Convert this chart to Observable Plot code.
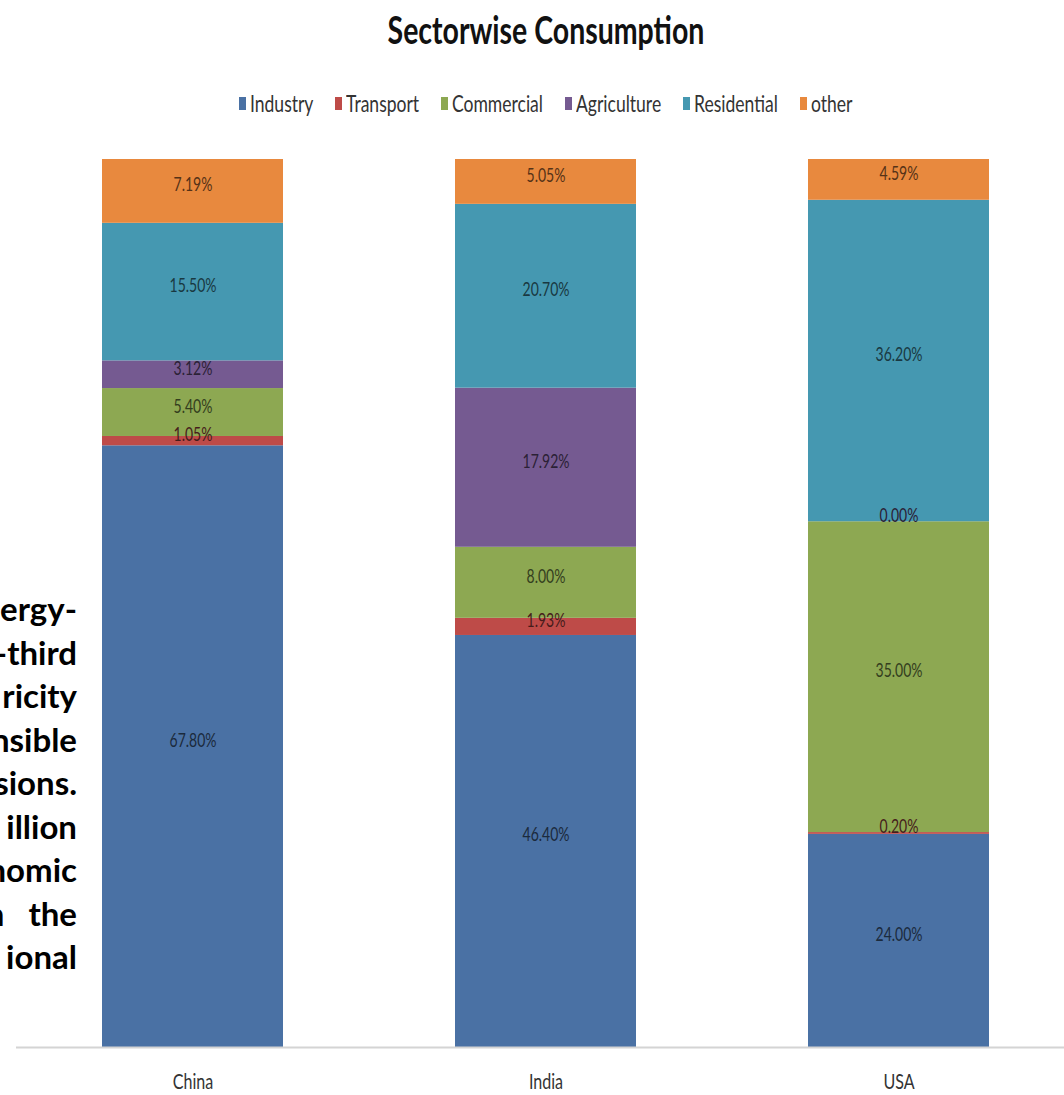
<!DOCTYPE html>
<html>
<head>
<meta charset="utf-8">
<script src="https://cdn.jsdelivr.net/npm/d3@7"></script>
<script src="https://cdn.jsdelivr.net/npm/@observablehq/plot@0.6"></script>
<style>
  html, body { margin: 0; padding: 0; background: #fff; overflow: hidden; }
  #page { position: relative; width: 1064px; height: 1095px; overflow: hidden; background: #fff;
          font-family: Lato, "Open Sans", sans-serif; }
  #side { position: absolute; z-index: 2; left: -323px; top: 587px; width: 400px; text-align: right;
          font-weight: 700; font-size: 33px; line-height: 43.5px; color: #000; white-space: pre; }
  #title { position: absolute; left: 16px; width: 1059px; top: 10px; text-align: center;
           font-weight: 700; font-size: 39px; line-height: 39px; color: #111; }
  #title span { display: inline-block; transform: scaleX(0.73); }
  #legend { position: absolute; left: 16px; width: 1059px; top: 91px; height: 24px;
            display: flex; justify-content: center; align-items: center; gap: 22px; }
  .item { display: flex; align-items: center; }
  .sw { width: 7px; height: 13px; margin-right: 4px; }
  .lab-box { overflow: visible; white-space: nowrap; }
  .lab { display: inline-block; font-size: 24px; line-height: 24px; color: #333; transform-origin: left center; }
  #chart { position: absolute; z-index: 1; left: 0; top: 125px; }
</style>
</head>
<body>
<div id="page">
  <div id="title"><span>Sectorwise Consumption</span></div>
  <div id="legend"></div>
  <div id="chart"></div>
  <div id="side"></div>
</div>
<script>
// Share of consumption by sector (percent), one array per country
const countries = ["China", "India", "USA"];
const sectors = ["Industry", "Transport", "Commercial", "Agriculture", "Residential", "other"];
const china = [67.80, 1.05, 5.40, 3.12, 15.50, 7.19];
const india = [46.40, 1.93, 8.00, 17.92, 20.70, 5.05];
const usa   = [24.00, 0.20, 35.00, 0.00, 36.20, 4.59];
const sectorColors = ["#4a71a4", "#be4b48", "#8da852", "#755a91", "#4598b1", "#e8893e"];

// Clipped paragraph fragments at the left edge
const sideLines = ["ergy-", "-third", "ricity", "nsible", "sions.", "illion", "nomic", "n\u00a0\u00a0\u00a0the", "ional"];

const SX = 0.73;       // horizontal condensing of legend / axis lettering
const SX_LABEL = 0.70; // horizontal condensing of the value labels

const byCountry = {China: china, India: india, USA: usa};
const rows = countries.flatMap(c => sectors.map((s, i) => ({country: c, sector: s, value: byCountry[c][i]})));
const colorOf = Object.fromEntries(sectors.map((s, i) => [s, sectorColors[i]]));
const labelColor = s => d3.color(colorOf[s]).darker(2.8).formatHex();

// side text
document.getElementById("side").textContent = sideLines.join("\n");

// legend
const legend = document.getElementById("legend");
sectors.forEach((s, i) => {
  const item = document.createElement("div");
  item.className = "item";
  const sw = document.createElement("div");
  sw.className = "sw";
  sw.style.background = sectorColors[i];
  const box = document.createElement("div");
  box.className = "lab-box";
  const lab = document.createElement("span");
  lab.className = "lab";
  lab.textContent = s;
  box.appendChild(lab);
  item.appendChild(sw);
  item.appendChild(box);
  legend.appendChild(item);
  const w = lab.getBoundingClientRect().width;
  lab.style.transform = `scaleX(${SX})`;
  box.style.width = (w * SX) + "px";
});

const chart = Plot.plot({
  width: 1064,
  height: 970,
  marginTop: 34,
  marginBottom: 48,
  marginLeft: 16,
  marginRight: 0,
  x: {domain: countries, range: [16, 1075], paddingInner: 0.487, paddingOuter: 0.2435, label: null, tickSize: 0, tickPadding: 41},
  y: {axis: null, domain: [0, 1]},
  color: {domain: sectors, range: sectorColors},
  style: {fontFamily: "Lato, 'Open Sans', sans-serif", fontSize: "22px", color: "#333", background: "transparent", overflow: "hidden"},
  marks: [
    Plot.barY(rows, Plot.stackY({offset: "normalize", x: "country", y: "value", fill: "sector"})),
    Plot.ruleY([0], {stroke: "#d4d4d4", strokeWidth: 2}),
    Plot.text(rows, Plot.stackY({
      offset: "normalize", x: "country", y: "value",
      text: d => d.value.toFixed(2) + "%",
      fill: d => labelColor(d.sector),
      fontSize: 20,
      className: "value-label"
    }))
  ]
});

// condense every label around its anchor point
chart.querySelectorAll("text").forEach(t => {
  const sx = t.closest(".value-label") ? SX_LABEL : SX;
  const x = +t.getAttribute("x") || 0, y = +t.getAttribute("y") || 0;
  const tr = t.getAttribute("transform") || "";
  t.setAttribute("transform", `${tr} translate(${x},${y}) scale(${sx},1)`);
  t.removeAttribute("x");
  t.removeAttribute("y");
});

document.getElementById("chart").appendChild(chart);
</script>
</body>
</html>
